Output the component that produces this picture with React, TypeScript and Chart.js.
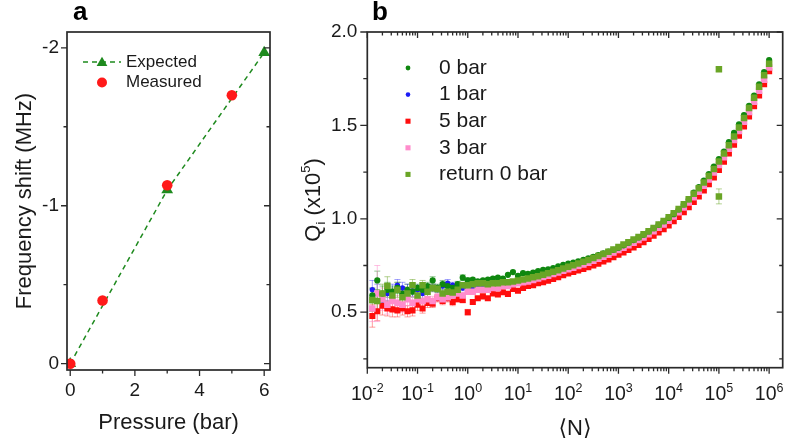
import React, { useEffect, useRef } from 'react';
import { Chart, registerables } from 'chart.js';
Chart.register(...registerables);

const FONT = "'Liberation Sans', Arial, 'DejaVu Sans', sans-serif";
const INK = '#1a1a1a';
const FRAME = '#2a2a2a';

// ---------- Panel a data ----------
const expectedPressure = [0, 3, 6];
const expectedShift = [0, -1.1, -1.97];
const measuredPressure = [0, 1, 3, 5];
const measuredShift = [0, -0.4, -1.13, -1.7];
const aXTicks = [0, 2, 4, 6];
const aXMinor = [1, 3, 5];
const aYTicks = [-2, -1, 0];
const aYMinor = [-1.5, -0.5];

// ---------- Panel b data ----------
const photonN = [
  0.0126, 0.0158, 0.02, 0.0251, 0.0316, 0.0398, 0.0501, 0.0631, 0.0794, 0.1,
  0.126, 0.158, 0.2, 0.251, 0.316, 0.398, 0.501, 0.631, 0.794, 1,
  1.26, 1.58, 2, 2.51, 3.16, 3.98, 5.01, 6.31, 7.94, 10,
  12.6, 15.8, 20, 25.1, 31.6, 39.8, 50.1, 63.1, 79.4, 100,
  126, 158, 200, 251, 316, 398, 501, 631, 794, 1000,
  1260, 1580, 2000, 2510, 3160, 3980, 5010, 6310, 7940, 10000,
  12600, 15800, 20000, 25100, 31600, 39800, 50100, 63100, 79400, 100000,
  126000, 158000, 200000, 251000, 316000, 398000, 501000, 631000, 794000, 1000000,
];
const qi0bar = [
  0.59, 0.67, 0.6, 0.62, 0.61, 0.63, 0.6, 0.62, 0.61, 0.63,
  0.62, 0.64, 0.67, 0.63, 0.65, 0.64, 0.63, 0.65, 0.685, 0.67,
  0.675, 0.665, 0.67, 0.675, 0.68, 0.685, 0.68, 0.7, 0.715, 0.695,
  0.709, 0.705, 0.712, 0.72, 0.727, 0.73, 0.736, 0.745, 0.753, 0.76,
  0.765, 0.772, 0.78, 0.788, 0.797, 0.806, 0.815, 0.825, 0.834, 0.845,
  0.858, 0.872, 0.886, 0.9, 0.915, 0.932, 0.95, 0.968, 0.987, 1.005,
  1.025, 1.05, 1.077, 1.105, 1.14, 1.17, 1.205, 1.24, 1.28, 1.32,
  1.36, 1.41, 1.46, 1.505, 1.555, 1.605, 1.66, 1.72, 1.785, 1.85,
];
const qi1bar = [
  0.62, 0.6, 0.566, 0.6, 0.61, 0.645, 0.63, 0.62, 0.615, 0.62,
  0.6, 0.62, 0.63, 0.625, 0.64, 0.655, 0.645, 0.64, 0.63, 0.61,
  0.625, 0.63, 0.635, 0.645, 0.64, 0.65, 0.655, 0.66, 0.66, 0.665,
  0.668, 0.672, 0.678, 0.684, 0.69, 0.698, 0.707, 0.715, 0.724, 0.733,
  0.741, 0.75, 0.759, 0.768, 0.778, 0.789, 0.8, 0.811, 0.823, 0.836,
  0.848, 0.861, 0.875, 0.889, 0.903, 0.92, 0.937, 0.955, 0.974, 0.994,
  1.016, 1.039, 1.064, 1.091, 1.119, 1.149, 1.181, 1.214, 1.252, 1.292,
  1.334, 1.379, 1.426, 1.474, 1.524, 1.576, 1.631, 1.689, 1.749, 1.815,
];
const qi5bar = [
  0.48, 0.505, 0.535, 0.52, 0.515, 0.51, 0.52, 0.505, 0.51, 0.54,
  0.52, 0.55, 0.545, 0.575, 0.56, 0.575, 0.555, 0.57, 0.565, 0.5,
  0.555, 0.575, 0.585, 0.575, 0.6, 0.595, 0.607, 0.598, 0.625, 0.615,
  0.63, 0.64, 0.645, 0.655, 0.66, 0.668, 0.678, 0.688, 0.698, 0.707,
  0.715, 0.723, 0.732, 0.741, 0.75, 0.76, 0.772, 0.783, 0.795, 0.808,
  0.82, 0.833, 0.847, 0.86, 0.875, 0.892, 0.909, 0.927, 0.945, 0.965,
  0.987, 1.01, 1.035, 1.062, 1.09, 1.12, 1.152, 1.185, 1.222, 1.262,
  1.305, 1.35, 1.397, 1.445, 1.495, 1.548, 1.603, 1.66, 1.72, 1.79,
];
const qi3bar = [
  0.52, 0.6, 0.57, 0.54, 0.56, 0.55, 0.54, 0.57, 0.55, 0.57,
  0.56, 0.57, 0.56, 0.58, 0.57, 0.58, 0.59, 0.6, 0.59, 0.61,
  0.61, 0.62, 0.62, 0.62, 0.63, 0.63, 0.64, 0.64, 0.65, 0.655,
  0.66, 0.665, 0.672, 0.68, 0.688, 0.695, 0.705, 0.713, 0.722, 0.73,
  0.738, 0.747, 0.756, 0.765, 0.775, 0.786, 0.797, 0.808, 0.82, 0.833,
  0.845, 0.858, 0.872, 0.886, 0.9, 0.917, 0.934, 0.952, 0.97, 0.99,
  1.012, 1.035, 1.06, 1.087, 1.115, 1.145, 1.177, 1.21, 1.248, 1.288,
  1.33, 1.375, 1.422, 1.47, 1.52, 1.572, 1.627, 1.685, 1.745, 1.81,
];
const qiReturn = [
  0.565, 0.56, 0.6, 0.64, 0.59, 0.62, 0.58, 0.6, 0.645, 0.59,
  0.645, 0.61, 0.63, 0.625, 0.6, 0.61, 0.605, 0.62, 0.645, 0.645,
  0.65, 0.655, 0.655, 0.65, 0.655, 0.655, 0.66, 0.66, 0.665, 0.67,
  0.675, 0.68, 0.687, 0.693, 0.7, 0.708, 0.716, 0.725, 0.734, 0.743,
  0.752, 0.761, 0.77, 0.78, 0.79, 0.801, 0.812, 0.824, 0.836, 0.849,
  0.862, 0.875, 0.889, 0.903, 0.918, 0.934, 0.951, 0.969, 0.988, 1.008,
  1.03, 1.053, 1.078, 1.105, 1.134, 1.163, 1.195, 1.229, 1.267, 1.307,
  1.35, 1.394, 1.441, 1.489, 1.54, 1.593, 1.648, 1.707, 1.768, 1.83,
];
// error bars for the lowest-power points
const err0bar = [0.04, 0.05, 0.04, 0.04, 0.03, 0.03, 0.03, 0.03, 0.03, 0.02, 0.02, 0.02, 0.02, 0.02, 0.02, 0.02, 0.015, 0.015, 0.015, 0.015];
const err1bar = [0.05, 0.05, 0.04, 0.04, 0.04, 0.03, 0.03, 0.03, 0.03, 0.025, 0.025, 0.02, 0.02, 0.02, 0.02, 0.02, 0.015, 0.015, 0.015, 0.015];
const err5bar = [0.06, 0.05, 0.05, 0.04, 0.04, 0.035, 0.035, 0.03, 0.03, 0.03, 0.025, 0.025, 0.02, 0.02, 0.02, 0.02, 0.02, 0.015, 0.015, 0.015];
const err3bar = [0.07, 0.15, 0.06, 0.05, 0.05, 0.04, 0.04, 0.035, 0.035, 0.03, 0.03, 0.025, 0.025, 0.02, 0.02, 0.02, 0.02, 0.015, 0.015, 0.015];
const errReturn = [0.06, 0.06, 0.05, 0.05, 0.04, 0.04, 0.035, 0.035, 0.03, 0.03, 0.025, 0.025, 0.02, 0.02, 0.02, 0.02, 0.015, 0.015, 0.015, 0.015];
const returnOutlierN = [100000, 100000];
const returnOutlierQ = [1.8, 1.12];
const returnOutlierErr = [0.01, 0.04];

const bXTicks = [1e-2, 1e-1, 1e0, 1e1, 1e2, 1e3, 1e4, 1e5, 1e6];
const bXExponents = ['-2', '-1', '0', '1', '2', '3', '4', '5', '6'];
const bYTicks = [0.5, 1.0, 1.5, 2.0];
const bYLabels = ['0.5', '1.0', '1.5', '2.0'];
const bYMinor = [0.25, 0.75, 1.25, 1.75];

const GREEN_A = '#1e8a1e';
const RED_A = '#ff1a1a';

const seriesB = [
  { label: '0 bar', q: qi0bar, err: err0bar, color: '#0f870f', errColor: 'rgba(15,135,15,0.45)', style: 'circle', r: 3.1, lr: 2.4, order: 2 },
  { label: '1 bar', q: qi1bar, err: err1bar, color: '#1c1cf5', errColor: 'rgba(28,28,245,0.4)', style: 'circle', r: 2.7, lr: 2.3, order: 4 },
  { label: '5 bar', q: qi5bar, err: err5bar, color: '#ff0d0d', errColor: 'rgba(255,13,13,0.4)', style: 'rect', r: 4.3, lr: 3.6, order: 5 },
  { label: '3 bar', q: qi3bar, err: err3bar, color: '#ff8ccc', errColor: 'rgba(255,140,204,0.55)', style: 'rect', r: 4.6, lr: 3.6, order: 3 },
  { label: 'return 0 bar', q: qiReturn, err: errReturn, color: '#6aa526', errColor: 'rgba(106,165,38,0.5)', style: 'rect', r: 4.6, lr: 3.6, order: 1 },
];

type Seg = { t: string; size: number; dy?: number; bold?: boolean };
function drawRich(ctx: CanvasRenderingContext2D, segs: Seg[], cx: number, cy: number, rotate: boolean, main: number) {
  ctx.save();
  ctx.translate(cx, cy);
  if (rotate) ctx.rotate(-Math.PI / 2);
  ctx.fillStyle = INK;
  ctx.textBaseline = 'alphabetic';
  ctx.textAlign = 'left';
  const fontOf = (s: Seg) => `${s.bold ? 'bold ' : ''}${s.size}px ${FONT}`;
  let total = 0;
  const widths = segs.map((s) => {
    ctx.font = fontOf(s);
    const w = ctx.measureText(s.t).width;
    total += w;
    return w;
  });
  let x = -total / 2;
  const base = main * 0.36;
  segs.forEach((s, i) => {
    ctx.font = fontOf(s);
    ctx.fillText(s.t, x, base + (s.dy || 0));
    x += widths[i];
  });
  ctx.restore();
}

type TickSet = { vals: number[]; len: number; out: boolean };
function makeFrame(id: string, sides: { left?: TickSet[]; right?: TickSet[]; top?: TickSet[]; bottom?: TickSet[] }) {
  return {
    id,
    afterDatasetsDraw(chart: any) {
      const { ctx, chartArea: a, scales } = chart;
      ctx.save();
      ctx.setLineDash([]);
      ctx.strokeStyle = FRAME;
      ctx.lineWidth = 1.7;
      ctx.strokeRect(a.left, a.top, a.right - a.left, a.bottom - a.top);
      ctx.lineWidth = 1.3;
      ctx.beginPath();
      const inY = (y: number) => y >= a.top - 0.5 && y <= a.bottom + 0.5;
      const inX = (x: number) => x >= a.left - 0.5 && x <= a.right + 0.5;
      (sides.left || []).forEach((s) => s.vals.forEach((v) => {
        const y = scales.y.getPixelForValue(v);
        if (!inY(y)) return;
        ctx.moveTo(a.left, y); ctx.lineTo(a.left + (s.out ? -s.len : s.len), y);
      }));
      (sides.right || []).forEach((s) => s.vals.forEach((v) => {
        const y = scales.y.getPixelForValue(v);
        if (!inY(y)) return;
        ctx.moveTo(a.right, y); ctx.lineTo(a.right + (s.out ? s.len : -s.len), y);
      }));
      (sides.bottom || []).forEach((s) => s.vals.forEach((v) => {
        const x = scales.x.getPixelForValue(v);
        if (!inX(x)) return;
        ctx.moveTo(x, a.bottom); ctx.lineTo(x, a.bottom + (s.out ? s.len : -s.len));
      }));
      (sides.top || []).forEach((s) => s.vals.forEach((v) => {
        const x = scales.x.getPixelForValue(v);
        if (!inX(x)) return;
        ctx.moveTo(x, a.top); ctx.lineTo(x, a.top + (s.out ? -s.len : s.len));
      }));
      ctx.stroke();
      ctx.restore();
    },
  };
}

const errorBarPlugin = {
  id: 'errbars',
  beforeDatasetsDraw(chart: any) {
    const { ctx, chartArea: a } = chart;
    const ys = chart.scales.y;
    ctx.save();
    ctx.beginPath();
    ctx.rect(a.left, a.top, a.right - a.left, a.bottom - a.top);
    ctx.clip();
    ctx.lineWidth = 1;
    chart.data.datasets.forEach((ds: any, di: number) => {
      const errs = ds.errs as (number | null)[];
      if (!errs) return;
      const meta = chart.getDatasetMeta(di);
      ctx.strokeStyle = ds.errColor;
      ctx.beginPath();
      meta.data.forEach((el: any, i: number) => {
        const e = errs[i];
        if (e == null) return;
        const v = ds.data[i].y;
        const y1 = ys.getPixelForValue(v - e);
        const y2 = ys.getPixelForValue(v + e);
        const x = el.x;
        ctx.moveTo(x, y1); ctx.lineTo(x, y2);
        ctx.moveTo(x - 3, y1); ctx.lineTo(x + 3, y1);
        ctx.moveTo(x - 3, y2); ctx.lineTo(x + 3, y2);
      });
      ctx.stroke();
    });
    ctx.restore();
  },
};

function drawMarker(ctx: CanvasRenderingContext2D, style: string, x: number, y: number, r: number, color: string) {
  ctx.save();
  ctx.fillStyle = color;
  ctx.beginPath();
  if (style === 'circle') {
    ctx.arc(x, y, r, 0, Math.PI * 2);
  } else if (style === 'rect') {
    const s = r * Math.SQRT1_2;
    ctx.rect(x - s, y - s, 2 * s, 2 * s);
  } else if (style === 'triangle') {
    for (let k = 0; k < 3; k++) {
      const ang = (k * 2 * Math.PI) / 3;
      const px = x + Math.sin(ang) * r;
      const py = y - Math.cos(ang) * r;
      if (k === 0) ctx.moveTo(px, py); else ctx.lineTo(px, py);
    }
    ctx.closePath();
  }
  ctx.fill();
  ctx.restore();
}

const textA = {
  id: 'textA',
  afterDraw(chart: any) {
    const ctx = chart.ctx as CanvasRenderingContext2D;
    ctx.save();
    ctx.fillStyle = '#000';
    ctx.font = `bold 26px ${FONT}`;
    ctx.textAlign = 'left';
    ctx.textBaseline = 'alphabetic';
    ctx.fillText('a', 73, 20);
    ctx.restore();
    drawRich(ctx, [{ t: 'Frequency shift (MHz)', size: 22 }], 23, 201, true, 22);
    drawRich(ctx, [{ t: 'Pressure (bar)', size: 22 }], 168.5, 421.5, false, 22);
    // legend
    ctx.save();
    ctx.strokeStyle = GREEN_A;
    ctx.lineWidth = 1.5;
    ctx.setLineDash([5, 4]);
    ctx.beginPath();
    ctx.moveTo(83, 62); ctx.lineTo(121, 62);
    ctx.stroke();
    ctx.restore();
    drawMarker(ctx, 'triangle', 102, 63, 6.2, GREEN_A);
    drawMarker(ctx, 'circle', 102, 82.5, 5, RED_A);
    ctx.save();
    ctx.fillStyle = INK;
    ctx.font = `17px ${FONT}`;
    ctx.textBaseline = 'middle';
    ctx.textAlign = 'left';
    ctx.fillText('Expected', 126, 62);
    ctx.fillText('Measured', 126, 82.5);
    ctx.restore();
  },
};

const textB = {
  id: 'textB',
  afterDraw(chart: any) {
    const ctx = chart.ctx as CanvasRenderingContext2D;
    ctx.save();
    ctx.fillStyle = '#000';
    ctx.font = `bold 26px ${FONT}`;
    ctx.textAlign = 'left';
    ctx.textBaseline = 'alphabetic';
    ctx.fillText('b', 82, 20);
    ctx.restore();
    // x tick labels with exponents
    const xs = chart.scales.x;
    bXTicks.forEach((v, i) => {
      const x = xs.getPixelForValue(v);
      drawRich(ctx, [{ t: '10', size: 19.5 }, { t: bXExponents[i], size: 12.5, dy: -8.5 }], x, 393, false, 19.5);
    });
    drawRich(ctx, [
      { t: 'Q', size: 22 },
      { t: 'i', size: 13, dy: 5 },
      { t: ' (x10', size: 22 },
      { t: '5', size: 13, dy: -10 },
      { t: ')', size: 22 },
    ], 22, 200, true, 22);
    drawRich(ctx, [{ t: '\u27E8N\u27E9', size: 22 }], 285, 427, false, 22);
    // legend
    seriesB.forEach((s, k) => {
      const y = 68 + k * 26.6;
      drawMarker(ctx, s.style, 118, y, s.lr, s.color);
      ctx.save();
      ctx.fillStyle = INK;
      ctx.font = `21px ${FONT}`;
      ctx.textBaseline = 'middle';
      ctx.textAlign = 'left';
      ctx.fillText(s.label, 149, y);
      ctx.restore();
    });
  },
};

export default function App() {
  const refA = useRef<HTMLCanvasElement>(null);
  const refB = useRef<HTMLCanvasElement>(null);

  useEffect(() => {
    if (!refA.current || !refB.current) return;
    const tickFont = { family: FONT, size: 19 };

    const chartA = new Chart(refA.current, {
      type: 'line',
      data: {
        datasets: [
          {
            label: 'Measured',
            data: measuredPressure.map((p, i) => ({ x: p, y: measuredShift[i] })),
            showLine: false,
            pointStyle: 'circle',
            pointRadius: 5.3,
            pointBorderWidth: 0,
            backgroundColor: RED_A,
            borderColor: RED_A,
            order: 0,
          },
          {
            label: 'Expected',
            data: expectedPressure.map((p, i) => ({ x: p, y: expectedShift[i] })),
            borderColor: GREEN_A,
            backgroundColor: GREEN_A,
            borderDash: [5, 4],
            borderWidth: 1.5,
            pointStyle: 'triangle',
            pointRadius: 6.8,
            pointBorderWidth: 0,
            pointBackgroundColor: GREEN_A,
            tension: 0,
            order: 1,
          },
        ] as any,
      },
      options: {
        responsive: false,
        animation: false,
        devicePixelRatio: 1,
        events: [],
        layout: { padding: { left: 0, right: 20, top: 32, bottom: 0 } },
        plugins: { legend: { display: false }, tooltip: { enabled: false } },
        scales: {
          x: {
            type: 'linear',
            min: -0.1,
            max: 6.18,
            afterFit: (s: any) => { s.height = 75; },
            afterBuildTicks: (s: any) => { s.ticks = aXTicks.map((v) => ({ value: v })); },
            grid: { display: false, drawTicks: false },
            border: { display: false },
            ticks: { padding: 9, font: tickFont, color: INK, maxRotation: 0, autoSkip: false, callback: (v: any) => String(v) },
          },
          y: {
            type: 'linear',
            reverse: true,
            min: -2.1,
            max: 0.04,
            afterFit: (s: any) => { s.width = 67; },
            afterBuildTicks: (s: any) => { s.ticks = aYTicks.map((v) => ({ value: v })); },
            grid: { display: false, drawTicks: false },
            border: { display: false },
            ticks: { padding: 8, font: tickFont, color: INK, autoSkip: false, callback: (v: any) => String(v) },
          },
        },
      } as any,
      plugins: [
        makeFrame('frameA', {
          left: [{ vals: aYTicks, len: 6, out: true }, { vals: aYMinor, len: 3.5, out: true }],
          right: [{ vals: aYTicks, len: 6, out: false }, { vals: aYMinor, len: 3.5, out: false }],
          bottom: [{ vals: aXTicks, len: 6, out: true }, { vals: aXMinor, len: 3.5, out: true }],
        }),
        textA,
      ],
    });

    const bXMinor: number[] = [];
    for (let d = -2; d < 6; d++) for (let k = 2; k <= 9; k++) bXMinor.push(k * Math.pow(10, d));

    const datasetsB = seriesB.map((s, si) => {
      const data = photonN.map((n, i) => ({ x: n, y: s.q[i] }));
      const errs: (number | null)[] = photonN.map((_, i) => (i < s.err.length ? s.err[i] : null));
      if (si === 4) {
        returnOutlierN.forEach((n, j) => {
          data.push({ x: n, y: returnOutlierQ[j] });
          errs.push(returnOutlierErr[j]);
        });
      }
      return {
        label: s.label,
        data,
        errs,
        errColor: s.errColor,
        showLine: false,
        pointStyle: s.style,
        pointRadius: s.r,
        pointBorderWidth: 0,
        backgroundColor: s.color,
        borderColor: s.color,
        order: s.order,
      };
    });

    const chartB = new Chart(refB.current, {
      type: 'scatter',
      data: { datasets: datasetsB as any },
      options: {
        responsive: false,
        animation: false,
        devicePixelRatio: 1,
        events: [],
        layout: { padding: { left: 0, right: 5.3, top: 32, bottom: 0 } },
        plugins: { legend: { display: false }, tooltip: { enabled: false } },
        scales: {
          x: {
            type: 'logarithmic',
            min: 0.01,
            max: 1862000,
            afterFit: (s: any) => { s.height = 77.3; },
            afterBuildTicks: (s: any) => { s.ticks = bXTicks.map((v) => ({ value: v })); },
            grid: { display: false, drawTicks: false },
            border: { display: false },
            ticks: { display: false },
          },
          y: {
            type: 'linear',
            min: 0.203,
            max: 2.0,
            afterFit: (s: any) => { s.width = 77.3; },
            afterBuildTicks: (s: any) => { s.ticks = bYTicks.map((v) => ({ value: v })); },
            grid: { display: false, drawTicks: false },
            border: { display: false },
            ticks: { padding: 10, font: tickFont, color: INK, autoSkip: false, callback: (_v: any, i: number) => bYLabels[i] },
          },
        },
      } as any,
      plugins: [
        errorBarPlugin,
        makeFrame('frameB', {
          left: [{ vals: bYTicks, len: 7, out: true }, { vals: bYMinor, len: 4, out: true }],
          right: [{ vals: bYTicks, len: 6, out: false }, { vals: bYMinor, len: 3.5, out: false }],
          bottom: [{ vals: bXTicks, len: 6, out: true }, { vals: bXMinor, len: 3.5, out: true }],
          top: [{ vals: bXTicks, len: 6, out: false }, { vals: bXMinor, len: 3.5, out: false }],
        }),
        textB,
      ],
    });

    return () => {
      chartA.destroy();
      chartB.destroy();
    };
  }, []);

  return (
    <div style={{ position: 'absolute', left: 0, top: 0, width: 788, height: 445, background: '#fff', overflow: 'hidden' }}>
      <canvas ref={refA} width={290} height={445} style={{ position: 'absolute', left: 0, top: 0 }} />
      <canvas ref={refB} width={498} height={445} style={{ position: 'absolute', left: 290, top: 0 }} />
    </div>
  );
}
